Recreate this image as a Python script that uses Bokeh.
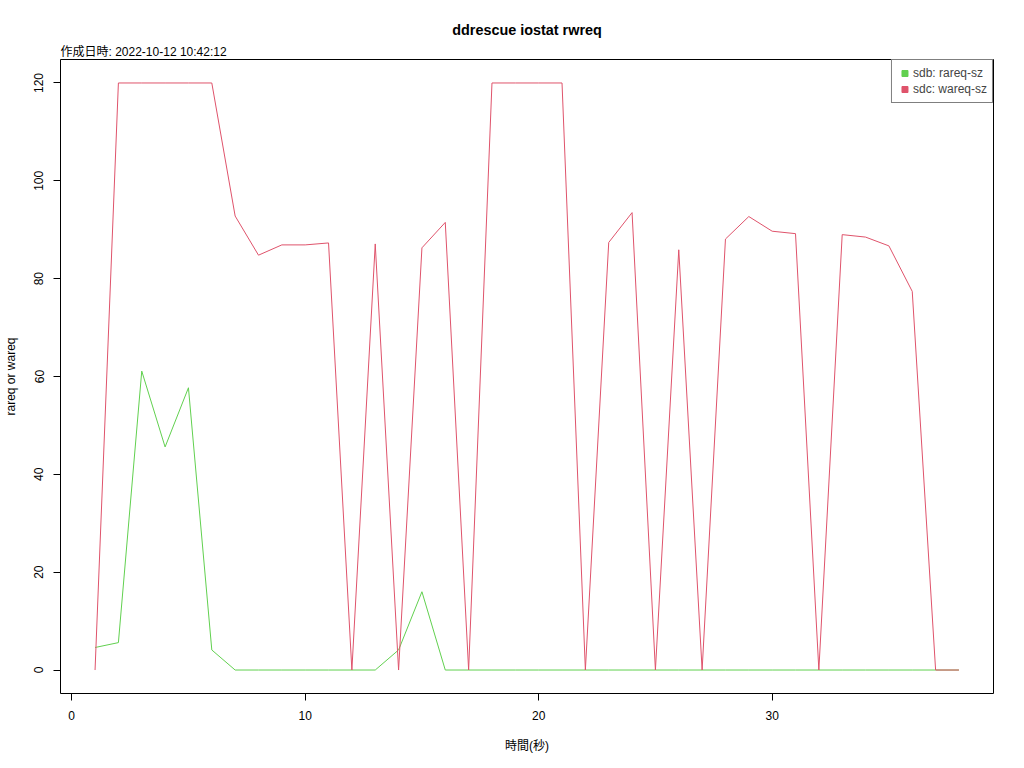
from bokeh.plotting import figure
from bokeh.models import Range1d, FixedTicker, Title, Legend, LegendItem
from bokeh.embed import file_html
from bokeh.resources import INLINE

# ---- data ----
seconds = list(range(1, 39))
rareq_sz = [4.6, 5.6, 61.1, 45.6, 57.7, 4.1, 0, 0, 0, 0, 0, 0, 0, 4.1, 16.0,
            0, 0, 0, 0, 0, 0, 0, 0, 0, 0, 0, 0, 0, 0, 0, 0, 0, 0, 0, 0, 0, 0, 0]
wareq_sz = [0, 120, 120, 120, 120, 120, 92.8, 84.8, 86.9, 86.9, 87.3, 0, 87.1, 0,
            86.3, 91.5, 0, 120, 120, 120, 120, 0, 87.4, 93.5, 0, 85.9, 0, 88.1,
            92.7, 89.7, 89.2, 0, 89.0, 88.5, 86.7, 77.4, 0, 0]
series_labels = ["sdb: rareq-sz", "sdc: wareq-sz"]
x_ticks = [0, 10, 20, 30]
y_ticks = [0, 20, 40, 60, 80, 100, 120]

GREEN = "#61D04F"
RED = "#DF536B"
FONT = "Liberation Sans, Noto Sans CJK JP"
NAN = float("nan")

p = figure(frame_width=933, frame_height=634,
           min_border_left=60, min_border_right=23, min_border_top=59, min_border_bottom=67,
           x_range=Range1d(-0.48, 39.48), y_range=Range1d(-4.8, 124.8),
           output_backend="svg", toolbar_location=None, title=None)
p.background_fill_color = "white"
p.border_fill_color = "white"
p.outline_line_color = "black"
p.outline_line_width = 1
p.xgrid.visible = False
p.ygrid.visible = False

p.line(seconds, rareq_sz, line_color=GREEN, line_width=1)
p.line(seconds, wareq_sz, line_color=RED, line_width=1)

# legend proxies (square keys, not drawn in the plot)
lg = p.scatter(x=[NAN], y=[NAN], marker="square", color=GREEN, size=6)
lr = p.scatter(x=[NAN], y=[NAN], marker="square", color=RED, size=6)
legend = Legend(items=[LegendItem(label=series_labels[0], renderers=[lg]),
                       LegendItem(label=series_labels[1], renderers=[lr])],
                location="top_right", margin=0, padding=5, spacing=0,
                glyph_width=15, glyph_height=16, label_height=16, label_standoff=1,
                label_text_font_size="12px", label_text_font=FONT,
                border_line_color="black", border_line_width=1,
                background_fill_color="white", background_fill_alpha=1)
p.add_layout(legend)

# axes
for ax in (p.xaxis[0], p.yaxis[0]):
    ax.major_label_text_font_size = "12px"
    ax.major_label_text_font = FONT
    ax.major_label_text_color = "black"
    ax.axis_label_text_font_size = "12px"
    ax.axis_label_text_font = FONT
    ax.axis_label_text_font_style = "normal"
    ax.axis_label_text_color = "black"
    ax.axis_line_color = "black"
    ax.major_tick_line_color = "black"
    ax.major_tick_out = 7
    ax.major_tick_in = 0
    ax.minor_tick_line_color = None

p.xaxis[0].ticker = FixedTicker(ticks=x_ticks)
p.xaxis[0].bounds = (x_ticks[0], x_ticks[-1])
p.xaxis[0].major_label_standoff = 10
p.xaxis[0].axis_label = "時間(秒)"
p.xaxis[0].axis_label_standoff = 16

p.yaxis[0].ticker = FixedTicker(ticks=y_ticks)
p.yaxis[0].bounds = (y_ticks[0], y_ticks[-1])
p.yaxis[0].major_label_orientation = "vertical"
p.yaxis[0].major_label_standoff = 10
p.yaxis[0].axis_label = "rareq or wareq"
p.yaxis[0].axis_label_standoff = 14

# titles (first added is nearest to the frame)
sub = Title(text="作成日時: 2022-10-12 10:42:12", align="left",
            text_font_size="12px", text_font=FONT, text_font_style="normal",
            text_color="black", standoff=2)
p.add_layout(sub, "above")
main = Title(text="ddrescue iostat rwreq", align="center",
             text_font_size="14.4px", text_font=FONT, text_font_style="bold",
             text_color="black", standoff=8)
p.add_layout(main, "above")

open("out.html", "w").write(file_html(p, INLINE))
